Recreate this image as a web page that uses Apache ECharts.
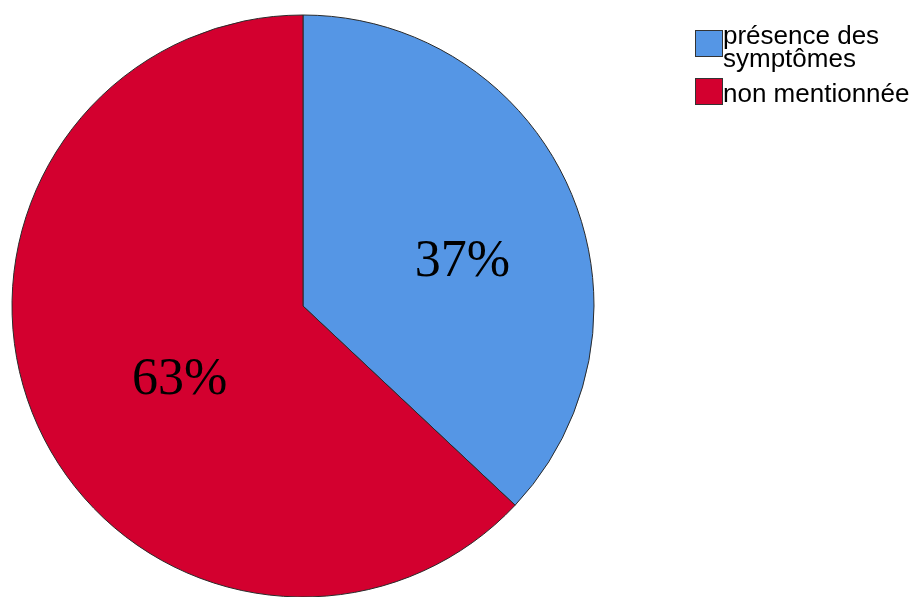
<!DOCTYPE html>
<html>
<head>
<meta charset="utf-8">
<script src="https://cdn.jsdelivr.net/npm/echarts@6/dist/echarts.min.js"></script>
<style>html,body{margin:0;padding:0;background:#fff}#c{width:916px;height:597px}</style>
</head>
<body>
<div id="c"></div>
<script>
var categories = ['présence des\nsymptômes', 'non mentionnée'];
var values = [37, 63];
var colors = ['#5596E5', '#D3002F'];
var richKeys = ['sqA', 'sqB'];

var chart = echarts.init(document.getElementById('c'));
var labelOffsets = [[23, 15], [13, 15]];
var legendTops = [24, 78];
var data = categories.map(function (c, i) {
  return {
    name: c,
    value: values[i],
    itemStyle: { color: colors[i] },
    label: { offset: labelOffsets[i] }
  };
});
var font = { fontFamily: 'Liberation Sans', fontSize: 26, color: '#000' };
var rich = {
  t1: Object.assign({ lineHeight: 32, verticalAlign: 'top' }, font),
  t2: Object.assign({ lineHeight: 8, verticalAlign: 'middle' }, font),
  t3: Object.assign({ lineHeight: 32, verticalAlign: 'middle' }, font),
  sp: { width: 27, height: 8 },
  gap: { width: 1, height: 8 }
};
richKeys.forEach(function (k, i) {
  rich[k] = { width: 26, height: 25, backgroundColor: colors[i], borderColor: '#333', borderWidth: 1, verticalAlign: i === 0 ? 'bottom' : 'top' };
});
function fmt(name) {
  var i = categories.indexOf(name);
  var lines = name.split('\n');
  if (lines.length === 1) {
    return '{' + richKeys[i] + '|}{gap|}{t3|' + lines[0] + '}';
  }
  var s = '{' + richKeys[i] + '|}{gap|}{t1|' + lines[0] + '}';
  for (var j = 1; j < lines.length; j++) s += '\n{sp|}{t2|' + lines[j] + '}';
  return s;
}
var legends = categories.map(function (c, i) {
  return {
    orient: 'vertical',
    left: 691,
    top: legendTops[i],
    padding: 0,
    icon: 'none',
    itemWidth: 0,
    itemHeight: 14,
    selectedMode: false,
    data: [c],
    formatter: fmt,
    textStyle: { rich: rich, padding: 0 }
  };
});
chart.setOption({
  animation: false,
  legend: legends,
  series: [{
    type: 'pie',
    center: [303, 306],
    radius: 291,
    startAngle: 90,
    clockwise: true,
    silent: true,
    itemStyle: { borderColor: '#2a2a2a', borderWidth: 1 },
    label: {
      show: true,
      position: 'inside',
      formatter: '{d}%',
      fontFamily: 'Liberation Serif',
      fontSize: 52,
      color: '#000'
    },
    labelLine: { show: false },
    data: data
  }]
});
</script>
</body>
</html>
